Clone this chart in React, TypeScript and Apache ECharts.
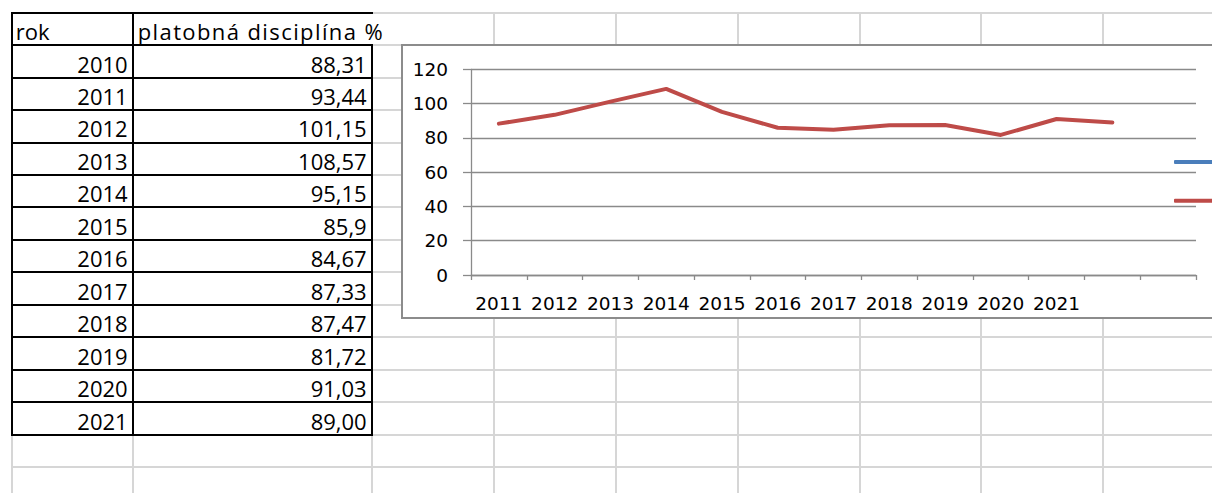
import React, { useEffect, useRef } from "react";
import * as echarts from "echarts";

// ---- data ----
const headers = ["rok", "platobná disciplína %"];
const years = ["2010", "2011", "2012", "2013", "2014", "2015", "2016", "2017", "2018", "2019", "2020", "2021"];
const disciplineText = ["88,31", "93,44", "101,15", "108,57", "95,15", "85,9", "84,67", "87,33", "87,47", "81,72", "91,03", "89,00"];
const disciplineValues = disciplineText.map((s) => parseFloat(s.replace(",", ".")));
const categoryLabels = ["2011", "2012", "2013", "2014", "2015", "2016", "2017", "2018", "2019", "2020", "2021", "", ""];
const seriesNames = ["rok", "platobná disciplína %"];
const yTicks = { min: 0, max: 120, step: 20 };

// ---- sheet layout ----
const SHEET_TOP = 12.7;
const ROW_H = 32.45;
const COLS = [11.7, 132.7, 371.7, 494, 616, 738, 859.5, 981, 1103];
const W = 1212;
const H = 493;
const GRID_COLOR = "#d6d6d6";
const TABLE_FONT = "'Open Sans', 'Liberation Sans', sans-serif";

function Chart() {
  const ref = useRef<HTMLDivElement>(null);
  useEffect(() => {
    if (!ref.current) return;
    const chart = echarts.init(ref.current, null, { renderer: "svg" });
    const axisGray = { color: "#8a8a8a", width: 1.3 };
    const legendCommon = {
      left: 771,
      orient: "vertical",
      icon: "roundRect",
      itemWidth: 48,
      itemHeight: 4,
      padding: 0,
      selectedMode: false,
      formatter: () => "",
      textStyle: { fontSize: 2, lineHeight: 2 },
    };
    chart.setOption({
      animation: false,
      textStyle: { fontFamily: "DejaVu Sans" },
      grid: { left: 68, top: 23.3, width: 725, height: 205.7, containLabel: false, outerBoundsMode: "none" },
      legend: [
        { ...legendCommon, data: [seriesNames[0]], top: 114 },
        { ...legendCommon, data: [seriesNames[1]], top: 152.7 },
      ],
      xAxis: {
        type: "category",
        data: categoryLabels,
        boundaryGap: true,
        axisLine: { show: true, lineStyle: axisGray },
        axisTick: { show: true, inside: false, length: 5, interval: 0, lineStyle: axisGray },
        axisLabel: { interval: 0, margin: 19, color: "#000", fontSize: 18.5, fontFamily: "DejaVu Sans", hideOverlap: false },
        splitLine: { show: false },
      },
      yAxis: {
        type: "value",
        min: yTicks.min,
        max: yTicks.max,
        interval: yTicks.step,
        axisLine: { show: true, lineStyle: axisGray },
        axisTick: { show: true, inside: false, length: 8, lineStyle: axisGray },
        axisLabel: { margin: 23, color: "#000", fontSize: 18.5, fontFamily: "DejaVu Sans" },
        splitLine: { show: true, lineStyle: axisGray },
      },
      series: [
        {
          name: seriesNames[0],
          type: "line",
          data: [],
          color: "#4A7EBB",
          symbol: "none",
          lineStyle: { width: 4, cap: "round", join: "round" },
          silent: true,
        },
        {
          name: seriesNames[1],
          type: "line",
          data: disciplineValues,
          color: "#BE4B48",
          symbol: "none",
          lineStyle: { width: 4, cap: "round", join: "round" },
          silent: true,
        },
      ],
    });
    return () => chart.dispose();
  }, []);
  return <div ref={ref} style={{ position: "absolute", left: 0, top: 0, width: 809, height: 271 }} />;
}

function HLine({ x1, x2, y, color, t = 2 }: { x1: number; x2: number; y: number; color: string; t?: number }) {
  return <div style={{ position: "absolute", left: x1 - t / 2, top: y - t / 2, width: x2 - x1 + t, height: t, background: color }} />;
}
function VLine({ x, y1, y2, color, t = 2 }: { x: number; y1: number; y2: number; color: string; t?: number }) {
  return <div style={{ position: "absolute", left: x - t / 2, top: y1 - t / 2, width: t, height: y2 - y1 + t, background: color }} />;
}

export default function App() {
  const nRowsTable = years.length + 1;
  const rowLines: number[] = [];
  for (let y = SHEET_TOP; y < H + ROW_H; y += ROW_H) rowLines.push(y);
  const tableBottom = SHEET_TOP + nRowsTable * ROW_H;

  const cellStyle = (x1: number, x2: number, row: number, align: "left" | "right"): React.CSSProperties => ({
    position: "absolute",
    left: x1,
    top: SHEET_TOP + row * ROW_H,
    width: x2 - x1,
    height: ROW_H,
    display: "flex",
    alignItems: "flex-end",
    justifyContent: align === "left" ? "flex-start" : "flex-end",
    boxSizing: "border-box",
    padding: align === "left" ? "0 0 3px 4px" : "0 5px 3px 0",
    fontFamily: TABLE_FONT,
    fontSize: 22,
    lineHeight: 1,
    color: "#000",
    whiteSpace: "nowrap",
  });

  return (
    <div style={{ position: "fixed", left: 0, top: 0, width: W, height: H, overflow: "hidden", background: "#fff" }}>
      {/* spreadsheet gridlines */}
      {rowLines.map((y, i) => (
        <HLine key={"gh" + i} x1={COLS[0]} x2={W + 10} y={y} color={GRID_COLOR} />
      ))}
      {COLS.map((x, i) => (
        <VLine key={"gv" + i} x={x} y1={i === 2 ? SHEET_TOP + ROW_H : SHEET_TOP} y2={H + 10} color={GRID_COLOR} />
      ))}

      {/* table borders */}
      {Array.from({ length: nRowsTable + 1 }, (_, i) => (
        <HLine key={"bh" + i} x1={COLS[0]} x2={COLS[2]} y={SHEET_TOP + i * ROW_H} color="#000" />
      ))}
      <VLine x={COLS[0]} y1={SHEET_TOP} y2={tableBottom} color="#000" />
      <VLine x={COLS[1]} y1={SHEET_TOP} y2={tableBottom} color="#000" />
      <VLine x={COLS[2]} y1={SHEET_TOP + ROW_H} y2={tableBottom} color="#000" />

      {/* table text */}
      <div style={cellStyle(COLS[0], COLS[1], 0, "left")}>{headers[0]}</div>
      <div style={{ ...cellStyle(COLS[1], COLS[2] + 60, 0, "left"), padding: "0 0 3px 5px", letterSpacing: 1.4 }}>{headers[1]}</div>
      {years.map((y, i) => (
        <div key={"y" + y} style={cellStyle(COLS[0], COLS[1], i + 1, "right")}>{y}</div>
      ))}
      {disciplineText.map((v, i) => (
        <div key={"v" + i} style={cellStyle(COLS[1], COLS[2], i + 1, "right")}>{v}</div>
      ))}

      {/* embedded chart */}
      <div
        style={{
          position: "absolute",
          left: 401,
          top: 44,
          width: 900,
          height: 275,
          border: "2px solid #8c8c8c",
          boxSizing: "border-box",
          background: "#fff",
        }}
      >
        <Chart />
      </div>
    </div>
  );
}
